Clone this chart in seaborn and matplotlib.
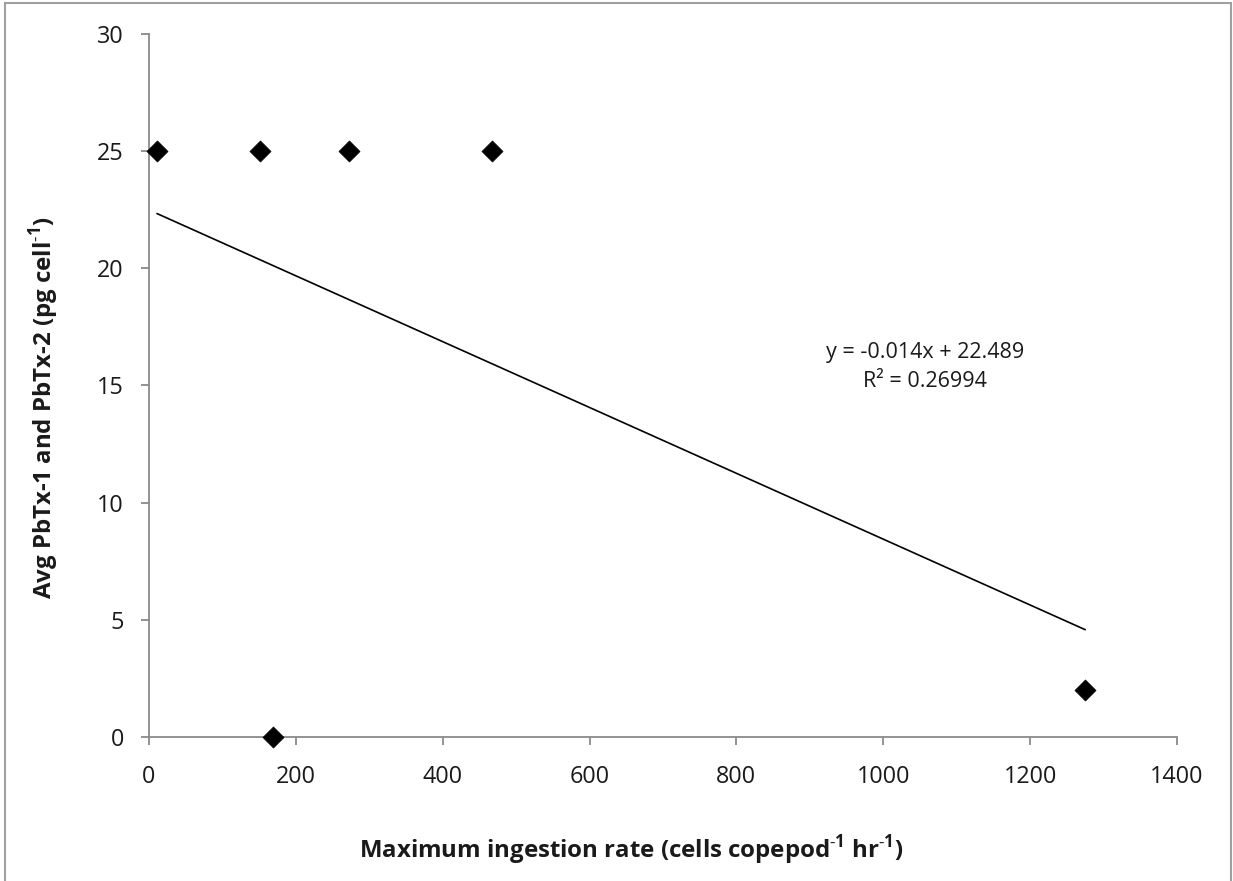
import numpy as np
import pandas as pd
import matplotlib
matplotlib.use("Agg")
import matplotlib.pyplot as plt
import seaborn as sns
from matplotlib.patches import Rectangle

# Data
ingestion_rate = [11, 151, 272, 467, 169, 1275]
pbtx = [25, 25, 25, 25, 0, 2]
x_ticks = [0, 200, 400, 600, 800, 1000, 1200, 1400]
y_ticks = [0, 5, 10, 15, 20, 25, 30]
eq_text = "y = -0.014x + 22.489\nR² = 0.26994"

sns.set_theme(style="white")
plt.rcParams['font.family'] = ['Open Sans', 'DejaVu Sans']
plt.rcParams['mathtext.fontset'] = 'custom'
plt.rcParams['mathtext.rm'] = 'Open Sans'
plt.rcParams['mathtext.bf'] = 'Open Sans:bold'

df = pd.DataFrame({"x": ingestion_rate, "y": pbtx})

fig = plt.figure(figsize=(12.33, 8.81), dpi=100)
ax = fig.add_axes([0.1208, 0.1635, 0.8338, 0.7979])

sns.scatterplot(data=df, x="x", y="y", ax=ax, marker="D", s=115,
                color="black", edgecolor="black", linewidth=0.5, zorder=3,
                clip_on=False)

# linear trendline
slope, intercept = np.polyfit(df["x"], df["y"], 1)
tx = np.array([df["x"].min(), df["x"].max()])
trend = pd.DataFrame({"x": tx, "y": slope * tx + intercept})
sns.lineplot(data=trend, x="x", y="y", ax=ax, color="black", linewidth=1.2)

ax.set_xlim(0, 1400)
ax.set_ylim(0, 30)
ax.set_xticks(x_ticks)
ax.set_yticks(y_ticks)
ax.set_xticklabels([str(v) for v in x_ticks])
ax.set_yticklabels([str(v) for v in y_ticks])

for s in ["top", "right"]:
    ax.spines[s].set_visible(False)
for s in ["left", "bottom"]:
    ax.spines[s].set_color("#8a8a8a")
    ax.spines[s].set_linewidth(1.3)

ax.tick_params(axis="both", which="major", direction="out", length=6,
               width=1.3, color="#8a8a8a", labelsize=16.8, labelcolor="#1a1a1a",
               bottom=True, left=True)
ax.tick_params(axis="x", pad=14)
ax.tick_params(axis="y", pad=12)

ax.set_xlabel(r"Maximum ingestion rate (cells copepod$^{\mathbf{\text{-}1}}$ hr$^{\mathbf{\text{-}1}}$)",
              fontsize=17.3, fontweight="bold", color="#1a1a1a")
ax.set_ylabel(r"Avg PbTx-1 and PbTx-2 (pg cell$^{\mathbf{\text{-}1}}$)",
              fontsize=17.3, fontweight="bold", color="#1a1a1a")
ax.xaxis.set_label_coords(0.469, -0.137)
ax.yaxis.set_label_coords(-0.086, 0.468)

ax.text(1057, 15.8, eq_text, ha="center", va="center", multialignment="center",
        fontsize=15.5, color="#1a1a1a", linespacing=1.5)

# figure border
fig.add_artist(Rectangle((0.004, -0.02), 0.9945, 1.0165, transform=fig.transFigure,
                         fill=False, edgecolor="#a0a0a0", linewidth=1.5))

fig.savefig("out.png", dpi=100)
